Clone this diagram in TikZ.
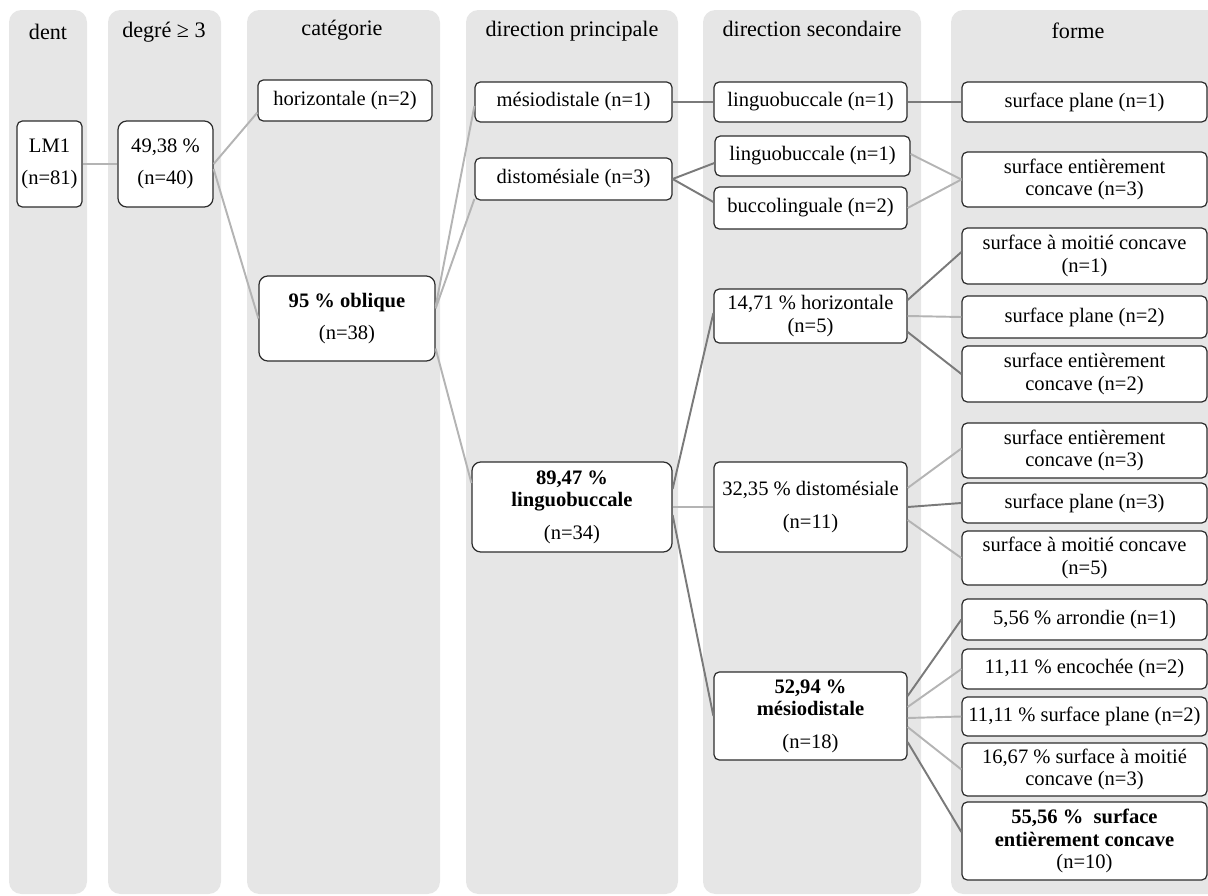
\documentclass[tikz,border=0pt]{standalone}
\usepackage{fontspec}
\setmainfont{Liberation Serif}
\usetikzlibrary{calc}
\definecolor{Gcol}{RGB}{230,230,230}
\definecolor{Gclair}{RGB}{180,180,180}
\definecolor{Gfonce}{RGB}{122,122,122}
\definecolor{Gbord}{RGB}{45,45,45}

\begin{document}
\begin{tikzpicture}[x=0.02cm, y=-0.02cm,
  col/.style ={fill=Gcol, rounded corners=7pt},
  tit/.style ={font=\fontsize{12.6}{14}\selectfont},
  box/.style ={rectangle, rounded corners=3pt,
               draw=Gbord, line width=0.7pt, fill=white,
               inner sep=0pt, align=center,
               font=\fontsize{11.7}{12.6}\selectfont},
  gbox/.style={box, rounded corners=5pt},
  sz/.style 2 args={minimum width=#1*0.02cm, minimum height=#2*0.02cm},
  lc/.style  ={line width=1.1pt, draw=Gclair},
  lf/.style  ={line width=1.1pt, draw=Gfonce},
]
\useasboundingbox (0,0) rectangle (1208,896);

%% ═══ Colonnes ═══
\begin{scope}
  \clip (0,0) rectangle (1208,896);
  \fill[col] (9,10)   rectangle (87,894);
  \fill[col] (108,10) rectangle (221,894);
  \fill[col] (247,10) rectangle (440,894);
  \fill[col] (466,10) rectangle (678,894);
  \fill[col] (703,10) rectangle (921,894);
  \fill[col] (951,10) rectangle (1222,894);
\end{scope}

\node[tit] (T1) at (48,32)   {dent};
\node[tit] (T2) at (164,32)  {degré ≥ 3};
\node[tit] (T3) at (342,30)  {catégorie};
\node[tit] (T4) at (572,31)  {direction principale};
\node[tit] (T5) at (812,29)  {direction secondaire};
\node[tit] (T6) at (1078,31) {forme};

%% ═══ dent / degré ═══
\node[box, sz={65}{86}] (LM) at (49.5,164)  {LM1\\[6pt](n=81)};
\node[gbox, sz={95}{86}] (DG) at (165.5,164) {49,38 \%\\[6pt](n=40)};

%% ═══ catégorie ═══
\node[box, sz={174}{41}]  (CH) at (345,100.5) {horizontale (n=2)};
\node[gbox, sz={176}{85}] (CO) at (347,318.5) {\textbf{95 \% oblique}\\[6pt](n=38)};

%% ═══ direction principale ═══
\node[box, sz={197}{40}]  (PM) at (573.5,102) {mésiodistale (n=1)};
\node[box, sz={197}{42}]  (PD) at (573.5,179) {distomésiale (n=3)};
\node[gbox, sz={200}{90}] (PL) at (572,507)
  {\textbf{89,47 \%}\\\textbf{linguobuccale}\\[6pt](n=34)};

%% ═══ direction secondaire ═══
\node[box, sz={193}{40}] (SL1) at (810.5,102) {linguobuccale (n=1)};
\node[box, sz={195}{40}] (SL2) at (812.5,156) {linguobuccale (n=1)};
\node[box, sz={193}{42}] (SB)  at (810.5,208) {buccolinguale (n=2)};
\node[box, sz={193}{54}] (SH)  at (810.5,316) {14,71 \% horizontale\\(n=5)};
\node[box, sz={193}{90}] (SD)  at (810.5,507) {32,35 \% distomésiale\\[6pt](n=11)};
\node[box, sz={193}{88}] (SM)  at (810.5,716)
  {\textbf{52,94 \%}\\\textbf{mésiodistale}\\[6pt](n=18)};

%% ═══ forme ═══
\node[box, sz={245}{40}] (F1)  at (1084.5,102)   {surface plane (n=1)};
\node[box, sz={245}{55}] (F2)  at (1084.5,179.5) {surface entièrement\\concave (n=3)};
\node[box, sz={245}{56}] (F3)  at (1084.5,256)   {surface à moitié concave\\(n=1)};
\node[box, sz={245}{42}] (F4)  at (1084.5,317)   {surface plane (n=2)};
\node[box, sz={245}{56}] (F5)  at (1084.5,374)   {surface entièrement\\concave (n=2)};
\node[box, sz={245}{55}] (F6)  at (1084.5,450.5) {surface entièrement\\concave (n=3)};
\node[box, sz={245}{40}] (F7)  at (1084.5,503)   {surface plane (n=3)};
\node[box, sz={245}{54}] (F8)  at (1084.5,558)   {surface à moitié concave\\(n=5)};
\node[box, sz={245}{41}] (F9)  at (1084.5,619.5) {5,56 \% arrondie (n=1)};
\node[box, sz={245}{40}] (F10) at (1084.5,669)   {11,11 \% encochée (n=2)};
\node[box, sz={245}{39}] (F11) at (1084.5,716.5) {11,11 \% surface plane (n=2)};
\node[box, sz={245}{53}] (F12) at (1084.5,769.5) {16,67 \% surface à moitié\\concave (n=3)};
\node[box, sz={245}{78}] (F13) at (1084.5,841)
  {\textbf{55,56 \%\ \ surface}\\\textbf{entièrement concave}\\(n=10)};

%% ═══ Liens ═══
\draw[lc] (LM.east) -- (DG.west);
\draw[lc] (DG.east) -- ($(CH.west)+(0,12)$);
\draw[lc] ($(DG.east)+(0,5)$) -- (CO.west);
\draw[lc] ($(CO.east)+(0,-12)$) -- ($(PM.west)+(0,4)$);
\draw[lc] ($(CO.east)+(0,-10)$) -- ($(PD.west)+(0,20)$);
\draw[lc] ($(CO.east)+(0,30)$) -- ($(PL.west)+(0,-24)$);

\draw[lf] (PM.east) -- (SL1.west);
\draw[lf] (SL1.east) -- (F1.west);
\draw[lf] (PD.east) -- ($(SL2.west)+(0,7)$);
\draw[lf] (PD.east) -- ($(SB.west)+(0,-6)$);
\draw[lc] ($(SL2.east)+(0,-2)$) -- (F2.west);
\draw[lc] (SB.east) -- (F2.west);

\draw[lf] ($(PL.east)+(0,-18)$) -- ($(SH.west)+(0,-3)$);
\draw[lc] (PL.east) -- (SD.west);
\draw[lf] ($(PL.east)+(0,8)$) -- (SM.west);

\draw[lf] ($(SH.east)+(0,-16)$) -- ($(F3.west)+(0,-4)$);
\draw[lc] (SH.east) -- (F4.west);
\draw[lf] ($(SH.east)+(0,16)$) -- (F5.west);

\draw[lc] ($(SD.east)+(0,-19)$) -- ($(F6.west)+(0,-2)$);
\draw[lf] (SD.east) -- (F7.west);
\draw[lc] ($(SD.east)+(0,13)$) -- (F8.west);

\draw[lf] ($(SM.east)+(0,-20)$) -- (F9.west);
\draw[lc] ($(SM.east)+(0,-9)$) -- (F10.west);
\draw[lc] ($(SM.east)+(0,2)$) -- (F11.west);
\draw[lc] ($(SM.east)+(0,11)$) -- (F12.west);
\draw[lf] ($(SM.east)+(0,26)$) -- ($(F13.west)+(0,-9)$);

\end{tikzpicture}
\end{document}
